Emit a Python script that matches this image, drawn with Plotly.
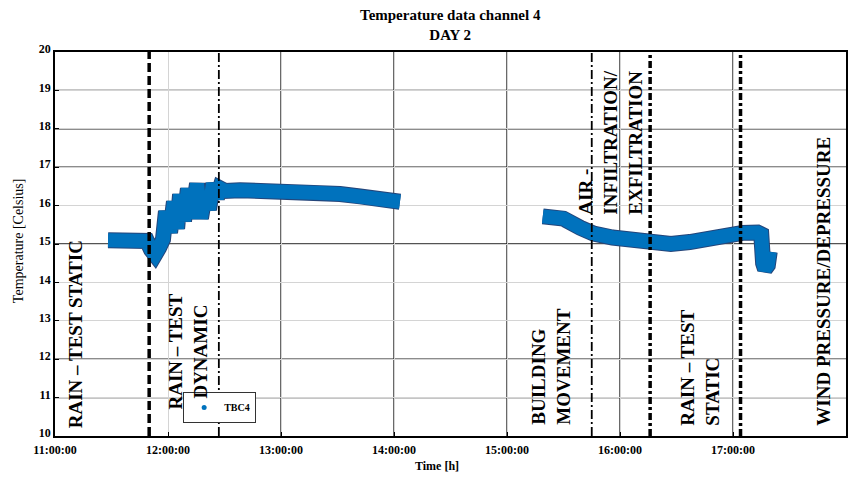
import plotly.graph_objects as go

# ---- measured temperature, channel 4 (time of day, deg C) ----
seg1_time = ["11:28:10", "11:34:30", "11:42:30", "11:48:50", "11:51:00", "11:53:05",
             "11:55:15", "11:57:20", "11:58:55", "12:01:05", "12:03:10", "12:04:50",
             "12:06:25", "12:08:30", "12:10:35", "12:12:45", "12:15:25", "12:17:30",
             "12:19:40", "12:21:45", "12:23:55", "12:26:00", "12:27:35", "12:30:15",
             "12:38:15", "12:48:50", "12:59:30", "13:10:05", "13:20:40", "13:31:20",
             "13:42:00", "13:52:35", "14:03:10"]
seg1_temp = [15.10, 15.08, 15.10, 15.08, 14.85, 14.72,
             14.90, 15.12, 15.85, 15.30, 16.10, 15.40,
             16.29, 15.60, 16.44, 15.67, 16.57, 15.67,
             16.31, 15.90, 16.57, 16.20, 16.45, 16.38,
             16.40, 16.40, 16.38, 16.35, 16.33, 16.30,
             16.24, 16.18, 16.10]

seg2_time = ["15:19", "15:30", "15:39", "15:46", "15:56", "16:05", "16:16", "16:27",
             "16:37", "16:48", "16:58", "17:05", "17:13", "17:15", "17:16", "17:17",
             "17:18:30", "17:19:30"]
seg2_temp = [15.72, 15.66, 15.42, 15.27, 15.17, 15.10, 15.04, 15.00,
             15.05, 15.16, 15.25, 15.29, 15.30, 15.25, 14.50, 14.35,
             14.45, 14.80]

series_name = "TBC4"

# ---- test phases ----
event_times = ["11:50", "12:27", "15:45", "16:16", "17:04"]
phase_labels = ["RAIN \u2013 TEST STATIC", "RAIN \u2013 TEST<br>DYNAMIC",
                "BUILDING<br>MOVEMENT", "AIR -<br>INFILTRATION/<br>EXFILTRATION",
                "RAIN \u2013 TEST<br>STATIC", "WIND PRESSURE/DEPRESSURE"]

# ---- axes ----
x_tick_hours = [11, 12, 13, 14, 15, 16, 17, 18]
x_tick_text = ["11:00:00", "12:00:00", "13:00:00", "14:00:00",
               "15:00:00", "16:00:00", "17:00:00", "18:00:00"]
y_ticks = [10, 11, 12, 13, 14, 15, 16, 17, 18, 19, 20]
dark_grid_x = [13, 14, 15, 16, 17]
dark_grid_y = [11, 12, 15, 17, 18, 19]


def to_hours(s):
    parts = [float(p) for p in s.split(":")]
    while len(parts) < 3:
        parts.append(0.0)
    return parts[0] + parts[1] / 60 + parts[2] / 3600


BLUE = "#0072BD"
SERIF = "Liberation Serif"

x_all = [to_hours(t) for t in seg1_time] + [None] + [to_hours(t) for t in seg2_time]
y_all = seg1_temp + [None] + seg2_temp

fig = go.Figure()

# dark rim under the band
fig.add_trace(go.Scatter(x=x_all, y=y_all, mode="lines", connectgaps=False,
                         line=dict(color="#24457a", width=16), hoverinfo="skip",
                         showlegend=False))
fig.add_trace(go.Scatter(x=x_all, y=y_all, mode="lines", connectgaps=False,
                         line=dict(color=BLUE, width=14), showlegend=False,
                         name=series_name))
# legend entry drawn as a point marker
fig.add_trace(go.Scatter(x=[None], y=[None], mode="markers", name=series_name,
                         marker=dict(color=BLUE, size=5, symbol="circle")))

shapes = []
for v in dark_grid_x:
    shapes.append(dict(type="line", xref="x", yref="paper", x0=v, x1=v, y0=0, y1=1,
                       line=dict(color="#1a1a1a", width=1.3), layer="below"))
for v in dark_grid_y:
    shapes.append(dict(type="line", xref="paper", yref="y", x0=0, x1=1, y0=v, y1=v,
                       line=dict(color="#1a1a1a", width=1.3), layer="below"))

event_styles = [
    dict(width=3.5, dash="9px,4px"),
    dict(width=1.8, dash="9px,3px,2px,3px"),
    dict(width=1.8, dash="9px,3px,2px,3px"),
    dict(width=3.5, dash="7px,3px,3px,3px"),
    dict(width=3.5, dash="7px,3px,3px,3px"),
]
for t, st in zip(event_times, event_styles):
    h = to_hours(t)
    shapes.append(dict(type="line", xref="x", yref="paper", x0=h, x1=h, y0=0, y1=1,
                       line=dict(color="black", **st)))

lab_font = dict(family=SERIF, size=19, color="black", weight="bold")
label_pos = [
    dict(x=11.177, y=10.15, yanchor="bottom", align="center"),
    dict(x=12.177, y=12.20, yanchor="middle", align="center"),
    dict(x=15.394, y=10.23, yanchor="bottom", align="left"),
    dict(x=15.916, y=15.70, yanchor="bottom", align="left"),
    dict(x=16.712, y=10.23, yanchor="bottom", align="left"),
    dict(x=17.805, y=10.23, yanchor="bottom", align="left"),
]
annotations = []
for text, pos in zip(phase_labels, label_pos):
    annotations.append(dict(text=text, xref="x", yref="y", x=pos["x"], y=pos["y"],
                            xanchor="center", yanchor=pos["yanchor"], align=pos["align"],
                            textangle=-90, showarrow=False, font=lab_font))

# chart title
annotations.append(dict(text="Temperature data channel 4<br>DAY 2", xref="paper",
                        yref="paper", x=0.5, y=1, yshift=7, xanchor="center",
                        yanchor="bottom", align="center", showarrow=False,
                        font=dict(family=SERIF, size=15, color="black", weight="bold")))
annotations.append(dict(text="Temperature [Celsius]", xref="paper", yref="paper",
                        x=-0.0468, y=0.51, xanchor="center", yanchor="middle",
                        textangle=-90, showarrow=False,
                        font=dict(family=SERIF, size=14, color="black")))
annotations.append(dict(text="Time [h]", xref="paper", yref="paper",
                        x=0.483, y=-0.078, xanchor="center", yanchor="middle",
                        showarrow=False,
                        font=dict(family=SERIF, size=12, color="black", weight="bold")))

axis_common = dict(showline=True, mirror=True, linecolor="black", linewidth=1.5,
                   ticks="inside", ticklen=4, tickcolor="black",
                   gridcolor="#d4d4d4", gridwidth=1, zeroline=False,
                   tickfont=dict(family=SERIF, size=12, color="black", weight="bold"))

fig.update_layout(
    width=867, height=480,
    margin=dict(l=55, r=21, t=52, b=44),
    paper_bgcolor="white", plot_bgcolor="white",
    xaxis=dict(range=[11, 18], tickvals=x_tick_hours, ticktext=x_tick_text,
               ticklabelstandoff=2, **axis_common),
    yaxis=dict(range=[10, 20], tickvals=y_ticks, ticklabelshift=-3, **axis_common),
    legend=dict(x=0.162, y=0.034, xanchor="left", yanchor="bottom",
                bgcolor="white", bordercolor="#333333", borderwidth=1,
                font=dict(family=SERIF, size=10, color="black", weight="bold"),
                itemwidth=30, tracegroupgap=0),
    shapes=shapes,
    annotations=annotations,
    showlegend=True,
)

fig.write_html("out.html")
